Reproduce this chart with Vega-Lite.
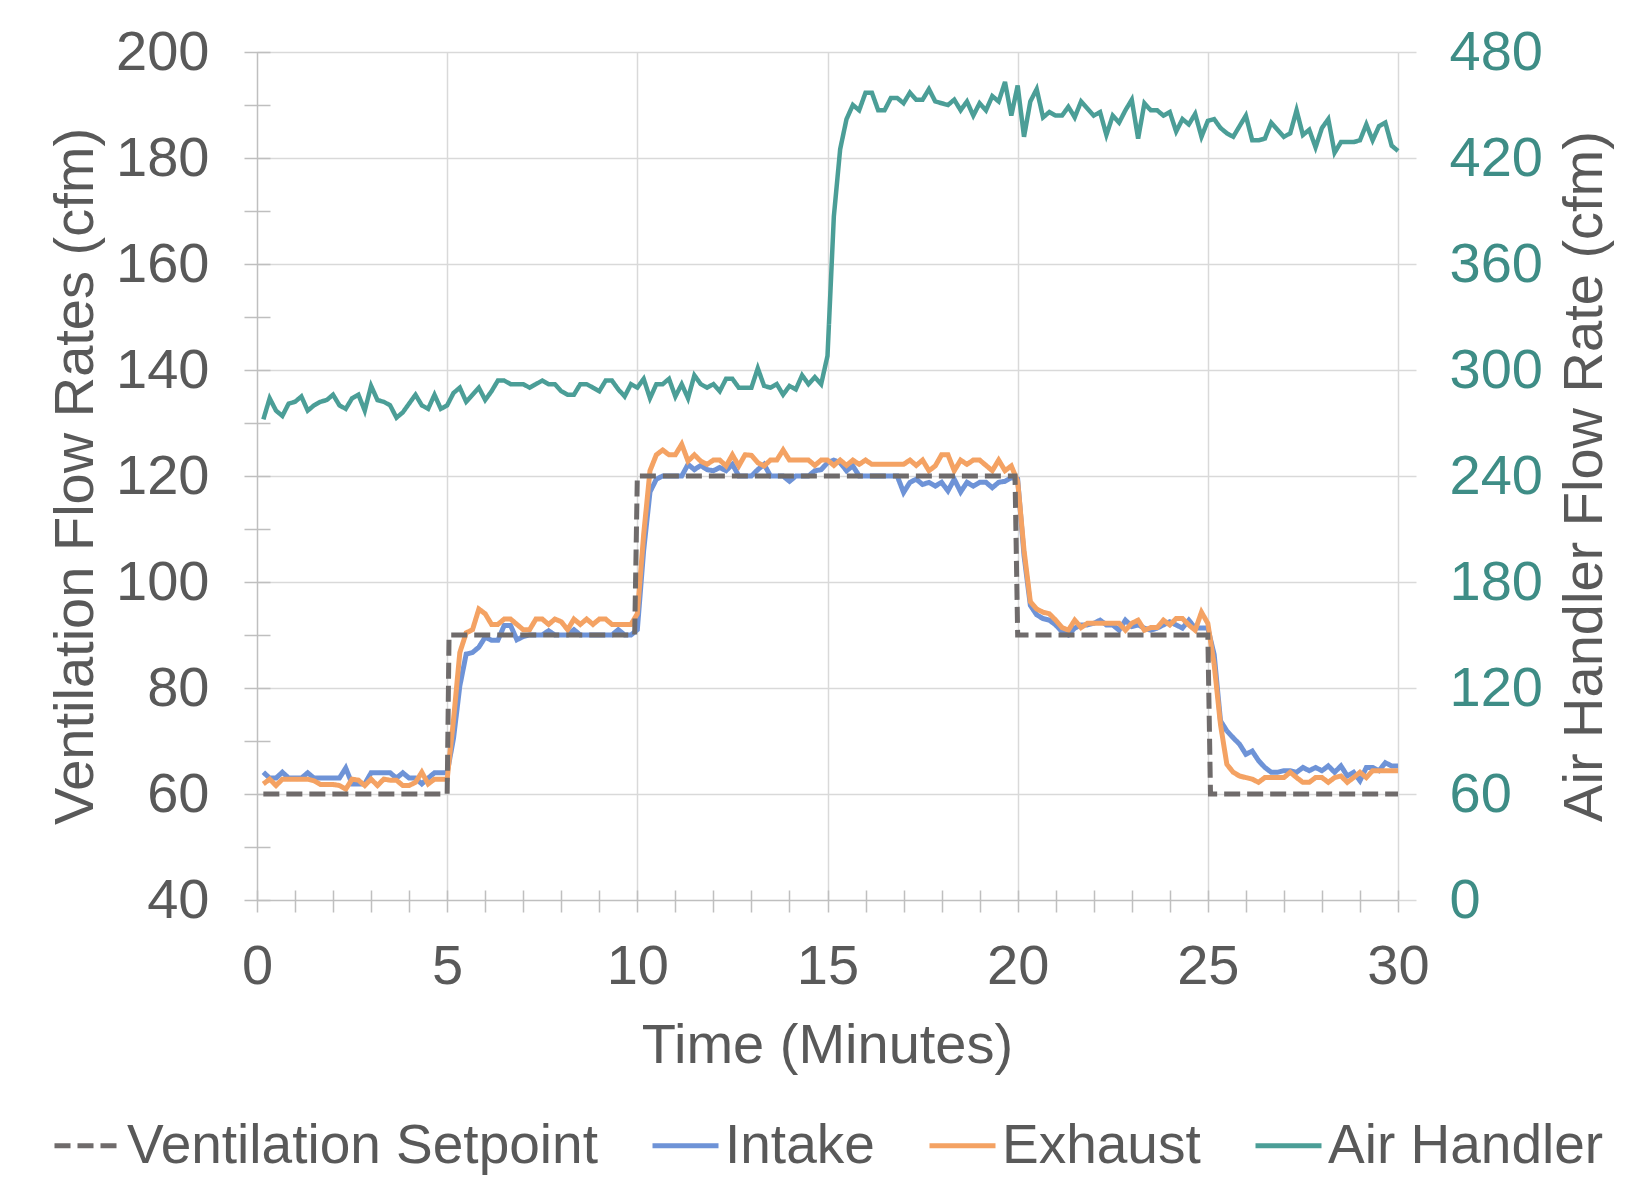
{
  "$schema": "https://vega.github.io/schema/vega-lite/v6.json",
  "width": 1141,
  "height": 848,
  "autosize": {"type": "none"},
  "padding": {"left": 257, "top": 52, "right": 247, "bottom": 292},
  "background": "white",
  "config": {"font": "Liberation Sans", "view": {"stroke": null}},
  "data": {"values": [
    {"t":0.167,"i":64.1,"e":61.9,"a":272},{"t":0.333,"i":63.0,"e":62.8,"a":284},{"t":0.5,"i":63.0,"e":61.6,"a":277},{"t":0.667,"i":64.1,"e":62.8,"a":274},{"t":0.833,"i":63.0,"e":62.8,"a":281},{"t":1,"i":63.0,"e":62.8,"a":282},
    {"t":1.167,"i":63.0,"e":62.8,"a":285},{"t":1.333,"i":64.0,"e":62.8,"a":277},{"t":1.5,"i":63.0,"e":62.5,"a":280},{"t":1.667,"i":63.0,"e":61.8,"a":282},{"t":1.833,"i":63.0,"e":61.8,"a":283},{"t":2,"i":63.0,"e":61.8,"a":286},
    {"t":2.167,"i":63.0,"e":61.6,"a":280},{"t":2.333,"i":64.9,"e":60.9,"a":278},{"t":2.5,"i":61.9,"e":62.8,"a":284},{"t":2.667,"i":61.9,"e":62.6,"a":286},{"t":2.833,"i":61.9,"e":61.6,"a":277},{"t":3,"i":64.0,"e":62.8,"a":291},
    {"t":3.167,"i":64.0,"e":61.6,"a":283},{"t":3.333,"i":64.0,"e":62.8,"a":282},{"t":3.5,"i":64.0,"e":62.6,"a":280},{"t":3.667,"i":63.0,"e":62.6,"a":273},{"t":3.833,"i":64.0,"e":61.6,"a":276},{"t":4,"i":63.0,"e":61.6,"a":281},
    {"t":4.167,"i":63.0,"e":62.2,"a":286},{"t":4.333,"i":61.9,"e":64.1,"a":280},{"t":4.5,"i":63.0,"e":61.9,"a":278},{"t":4.667,"i":64.0,"e":62.8,"a":286},{"t":4.833,"i":64.0,"e":62.8,"a":278},{"t":5,"i":64.0,"e":62.8,"a":280},
    {"t":5.167,"i":70.5,"e":74,"a":287},{"t":5.333,"i":80.4,"e":86.7,"a":290},{"t":5.5,"i":86.4,"e":90.4,"a":282},{"t":5.667,"i":86.7,"e":91,"a":286},{"t":5.833,"i":87.7,"e":94.9,"a":290},{"t":6,"i":89.6,"e":94,"a":283},
    {"t":6.167,"i":89,"e":92,"a":288},{"t":6.333,"i":89,"e":92,"a":294},{"t":6.5,"i":91.8,"e":93,"a":294},{"t":6.667,"i":91.8,"e":93,"a":292},{"t":6.833,"i":89.1,"e":92,"a":292},{"t":7,"i":89.7,"e":91,"a":292},
    {"t":7.167,"i":90,"e":91,"a":290},{"t":7.333,"i":90,"e":93,"a":292},{"t":7.5,"i":90,"e":93,"a":294},{"t":7.667,"i":90.8,"e":92,"a":292},{"t":7.833,"i":90,"e":93,"a":292},{"t":8,"i":90,"e":92.5,"a":288},
    {"t":8.167,"i":90,"e":91,"a":286},{"t":8.333,"i":91,"e":93,"a":286},{"t":8.5,"i":90,"e":92,"a":292},{"t":8.667,"i":90,"e":93,"a":292},{"t":8.833,"i":90,"e":92,"a":290},{"t":9,"i":90,"e":93,"a":288},
    {"t":9.167,"i":90,"e":93,"a":294},{"t":9.333,"i":90,"e":92,"a":294},{"t":9.5,"i":91,"e":92,"a":289},{"t":9.667,"i":90,"e":92,"a":285},{"t":9.833,"i":90,"e":92,"a":292},{"t":10,"i":91,"e":94,"a":290},
    {"t":10.167,"i":106,"e":109,"a":295},{"t":10.333,"i":117,"e":121,"a":284},{"t":10.5,"i":119.4,"e":124,"a":292},{"t":10.667,"i":120,"e":124.9,"a":292},{"t":10.833,"i":120,"e":124,"a":295},{"t":11,"i":120,"e":124,"a":285},
    {"t":11.167,"i":120,"e":126,"a":292},{"t":11.333,"i":122.2,"e":122.8,"a":284},{"t":11.5,"i":121.2,"e":124,"a":297},{"t":11.667,"i":122,"e":122.8,"a":292},{"t":11.833,"i":121.2,"e":122.2,"a":290},{"t":12,"i":121,"e":123,"a":292},
    {"t":12.167,"i":121.6,"e":123,"a":288},{"t":12.333,"i":121,"e":121.9,"a":295},{"t":12.5,"i":122.2,"e":124,"a":295},{"t":12.667,"i":120,"e":121.9,"a":290},{"t":12.833,"i":120,"e":124,"a":290},{"t":13,"i":120,"e":123.9,"a":290},
    {"t":13.167,"i":121.2,"e":122.5,"a":301},{"t":13.333,"i":122.2,"e":121.9,"a":291},{"t":13.5,"i":120,"e":123,"a":290},{"t":13.667,"i":120,"e":123,"a":292},{"t":13.833,"i":120,"e":124.9,"a":286},{"t":14,"i":119,"e":123,"a":291},
    {"t":14.167,"i":120,"e":123,"a":289},{"t":14.333,"i":120,"e":123,"a":297},{"t":14.5,"i":120,"e":123,"a":292},{"t":14.667,"i":121,"e":122,"a":296},{"t":14.833,"i":121.2,"e":123,"a":292},{"t":15,"i":122.5,"e":123,"a":308},
    {"t":15.167,"i":123,"e":122,"a":387},{"t":15.333,"i":122.5,"e":123,"a":425},{"t":15.5,"i":121,"e":122,"a":442},{"t":15.667,"i":121.9,"e":123,"a":450},{"t":15.833,"i":120,"e":122.2,"a":447},{"t":16,"i":120,"e":123,"a":457},
    {"t":16.167,"i":120,"e":122.2,"a":457},{"t":16.333,"i":120,"e":122.2,"a":447},{"t":16.5,"i":120,"e":122.2,"a":447},{"t":16.667,"i":120,"e":122.2,"a":454},{"t":16.833,"i":120,"e":122.2,"a":454},{"t":17,"i":116.9,"e":122.2,"a":451},
    {"t":17.167,"i":118.8,"e":123,"a":457},{"t":17.333,"i":119.4,"e":122,"a":453},{"t":17.5,"i":118.4,"e":123,"a":453},{"t":17.667,"i":118.8,"e":121,"a":459},{"t":17.833,"i":118.1,"e":121.9,"a":452},{"t":18,"i":118.8,"e":124,"a":451},
    {"t":18.167,"i":117.2,"e":124,"a":450},{"t":18.333,"i":119.4,"e":121,"a":453},{"t":18.5,"i":117,"e":123,"a":447},{"t":18.667,"i":118.8,"e":122.2,"a":452},{"t":18.833,"i":118.1,"e":123,"a":444},{"t":19,"i":118.8,"e":123,"a":451},
    {"t":19.167,"i":118.8,"e":122,"a":447},{"t":19.333,"i":117.8,"e":121,"a":455},{"t":19.5,"i":118.8,"e":123,"a":452},{"t":19.667,"i":119,"e":121,"a":463},{"t":19.833,"i":119.7,"e":121.9,"a":444},{"t":20,"i":119.4,"e":119,"a":461},
    {"t":20.167,"i":105,"e":106,"a":432},{"t":20.333,"i":95.6,"e":96.3,"a":452},{"t":20.5,"i":93.8,"e":94.9,"a":459},{"t":20.667,"i":93.1,"e":94.3,"a":443},{"t":20.833,"i":92.8,"e":94,"a":446},{"t":21,"i":91.9,"e":92.8,"a":444},
    {"t":21.167,"i":90.6,"e":91.4,"a":444},{"t":21.333,"i":90,"e":90.9,"a":449},{"t":21.5,"i":91.3,"e":92.8,"a":443},{"t":21.667,"i":91.9,"e":91.4,"a":452},{"t":21.833,"i":91.9,"e":92.2,"a":448},{"t":22,"i":92.2,"e":92.2,"a":444},
    {"t":22.167,"i":92.8,"e":92.2,"a":446},{"t":22.333,"i":91.9,"e":92.2,"a":433},{"t":22.5,"i":91.9,"e":92.2,"a":444},{"t":22.667,"i":90.9,"e":92.2,"a":440},{"t":22.833,"i":92.8,"e":90.9,"a":447},{"t":23,"i":91.6,"e":92.2,"a":453},
    {"t":23.167,"i":91.9,"e":92.8,"a":431},{"t":23.333,"i":91.3,"e":90.9,"a":451},{"t":23.5,"i":90.9,"e":91.4,"a":447},{"t":23.667,"i":91.3,"e":91.4,"a":447},{"t":23.833,"i":91.9,"e":92.8,"a":444},{"t":24,"i":92.5,"e":91.9,"a":446},
    {"t":24.167,"i":91.9,"e":93.1,"a":435},{"t":24.333,"i":91.3,"e":93.1,"a":442},{"t":24.5,"i":92.8,"e":91.9,"a":439},{"t":24.667,"i":91.3,"e":90.9,"a":445},{"t":24.833,"i":91.3,"e":94.3,"a":432},{"t":25,"i":91.3,"e":92.2,"a":441},
    {"t":25.167,"i":86.3,"e":84.4,"a":442},{"t":25.333,"i":73.8,"e":73.1,"a":437},{"t":25.5,"i":71.9,"e":65.6,"a":434},{"t":25.667,"i":70.6,"e":64.1,"a":432},{"t":25.833,"i":69.4,"e":63.4,"a":438},{"t":26,"i":67.5,"e":63.1,"a":444},
    {"t":26.167,"i":68.1,"e":62.8,"a":430},{"t":26.333,"i":66.3,"e":62.2,"a":430},{"t":26.5,"i":65,"e":63.1,"a":431},{"t":26.667,"i":64.1,"e":63.1,"a":440},{"t":26.833,"i":64.1,"e":63.1,"a":436},{"t":27,"i":64.4,"e":63.1,"a":432},
    {"t":27.167,"i":64.4,"e":64.1,"a":434},{"t":27.333,"i":64.1,"e":63.1,"a":447},{"t":27.5,"i":65,"e":62.2,"a":433},{"t":27.667,"i":64.4,"e":62.2,"a":436},{"t":27.833,"i":65,"e":63.1,"a":426},{"t":28,"i":64.4,"e":63.1,"a":437},
    {"t":28.167,"i":65.3,"e":62.2,"a":442},{"t":28.333,"i":64.1,"e":63.1,"a":423},{"t":28.5,"i":65.3,"e":63.4,"a":429},{"t":28.667,"i":63.4,"e":62.2,"a":429},{"t":28.833,"i":64.1,"e":63.1,"a":429},{"t":29,"i":62.5,"e":64.1,"a":430},
    {"t":29.167,"i":65,"e":63.1,"a":439},{"t":29.333,"i":65,"e":64.4,"a":430},{"t":29.5,"i":64.4,"e":64.4,"a":438},{"t":29.667,"i":65.9,"e":64.4,"a":440},{"t":29.833,"i":65.3,"e":64.4,"a":427},{"t":30,"i":65.3,"e":64.4,"a":424},
    {"t":0.167,"sp":60},{"t":5.0,"sp":60},{"t":5.05,"sp":90},{"t":9.93,"sp":90},{"t":10.0,"sp":120},{"t":19.93,"sp":120},{"t":20.0,"sp":90},{"t":25.0,"sp":90},{"t":25.07,"sp":60},{"t":30,"sp":60}
  ]},
  "encoding": {
    "x": {
      "field": "t", "type": "quantitative",
      "scale": {"domain": [0, 30], "nice": false, "zero": false},
      "axis": {
        "values": [0,1,2,3,4,5,6,7,8,9,10,11,12,13,14,15,16,17,18,19,20,21,22,23,24,25,26,27,28,29,30],
        "labelExpr": "datum.value % 5 == 0 ? datum.label : ''",
        "labelFontSize": 56, "labelColor": "#595959", "labelPadding": 27, "labelFlush": false, "labelOverlap": false,
        "domain": false, "tickSize": 22, "offset": -10, "tickColor": "#bfbfbf", "tickWidth": 1.5,
        "grid": true,
        "gridColor": {"condition": {"test": "datum.value == 0", "value": "#bfbfbf"}, "value": "#d9d9d9"},
        "gridOpacity": {"condition": {"test": "datum.value % 5 != 0", "value": 0}, "value": 1},
        "gridWidth": 1.5,
        "title": "Time (Minutes)", "titleFontSize": 56, "titleFontWeight": "normal", "titleColor": "#595959",
        "titleX": 570, "titleY": 155, "titleAlign": "center", "titleBaseline": "middle"
      }
    },
    "color": {
      "field": "key", "type": "nominal",
      "scale": {"domain": ["sp", "i", "e", "a"], "range": ["#6f6b6b", "#6e93d7", "#f4a263", "#4b9e97"]},
      "legend": {
        "orient": "none", "legendX": -205, "legendY": 1058, "direction": "horizontal", "columns": 4,
        "title": null,
        "labelExpr": "datum.label == 'sp' ? 'Ventilation Setpoint' : datum.label == 'i' ? 'Intake' : datum.label == 'e' ? 'Exhaust' : 'Air Handler'",
        "labelFontSize": 55, "labelColor": "#595959", "labelLimit": 1000, "labelOffset": 4,
        "symbolType": "stroke", "symbolSize": 4356, "symbolStrokeWidth": 5, "columnPadding": 44
      }
    },
    "strokeDash": {
      "field": "key", "type": "nominal",
      "scale": {"domain": ["sp", "i", "e", "a"], "range": [[16, 7], [1, 0], [1, 0], [1, 0]]},
      "legend": {
        "orient": "none", "legendX": -205, "legendY": 1058, "direction": "horizontal", "columns": 4,
        "title": null,
        "labelExpr": "datum.label == 'sp' ? 'Ventilation Setpoint' : datum.label == 'i' ? 'Intake' : datum.label == 'e' ? 'Exhaust' : 'Air Handler'",
        "labelFontSize": 55, "labelColor": "#595959", "labelLimit": 1000, "labelOffset": 4,
        "symbolType": "stroke", "symbolSize": 4356, "symbolStrokeWidth": 5, "columnPadding": 44
      }
    }
  },
  "layer": [
    {
      "transform": [
        {"fold": ["i", "e", "sp"], "as": ["key", "value"]},
        {"filter": "isValid(datum.value)"}
      ],
      "mark": {"type": "line", "strokeWidth": 5},
      "encoding": {
        "y": {
          "field": "value", "type": "quantitative",
          "scale": {"domain": [40, 200], "nice": false, "zero": false},
          "axis": {
            "values": [40,50,60,70,80,90,100,110,120,130,140,150,160,170,180,190,200],
            "labelExpr": "datum.value % 20 == 0 ? datum.label : ''",
            "labelFontSize": 56, "labelColor": "#595959", "labelPadding": 35, "labelOverlap": false, "labelFlush": false,
            "domain": false, "tickSize": 26, "offset": -13, "tickColor": "#bfbfbf", "tickWidth": 1.5,
            "grid": true,
            "gridColor": {"condition": {"test": "datum.value == 40", "value": "#bfbfbf"}, "value": "#d9d9d9"},
            "gridOpacity": {"condition": {"test": "datum.value % 20 != 0", "value": 0}, "value": 1},
            "gridWidth": 1.5,
            "title": "Ventilation Flow Rates (cfm)", "titleFontSize": 56, "titleFontWeight": "normal", "titleColor": "#595959",
            "titleAngle": 270, "titleX": -195, "titleY": 424, "titleAlign": "center", "titleBaseline": "middle"
          }
        }
      }
    },
    {
      "transform": [
        {"fold": ["a"], "as": ["key", "value"]},
        {"filter": "isValid(datum.value)"}
      ],
      "mark": {"type": "line", "strokeWidth": 4.5},
      "encoding": {
        "y": {
          "field": "value", "type": "quantitative",
          "scale": {"domain": [0, 480], "nice": false},
          "axis": {
            "orient": "right",
            "values": [0,60,120,180,240,300,360,420,480],
            "labelFontSize": 56, "labelColor": "#3e8d86", "labelPadding": 33, "labelOverlap": false, "labelFlush": false,
            "domain": false, "tickSize": 18, "tickColor": "#d9d9d9", "tickWidth": 1.5,
            "grid": false,
            "title": "Air Handler Flow Rate (cfm)", "titleFontSize": 56, "titleFontWeight": "normal", "titleColor": "#595959",
            "titleAngle": 270, "titleX": 186, "titleY": 424, "titleAlign": "center", "titleBaseline": "middle"
          }
        }
      }
    }
  ],
  "resolve": {"scale": {"y": "independent"}, "axis": {"y": "independent"}}
}
